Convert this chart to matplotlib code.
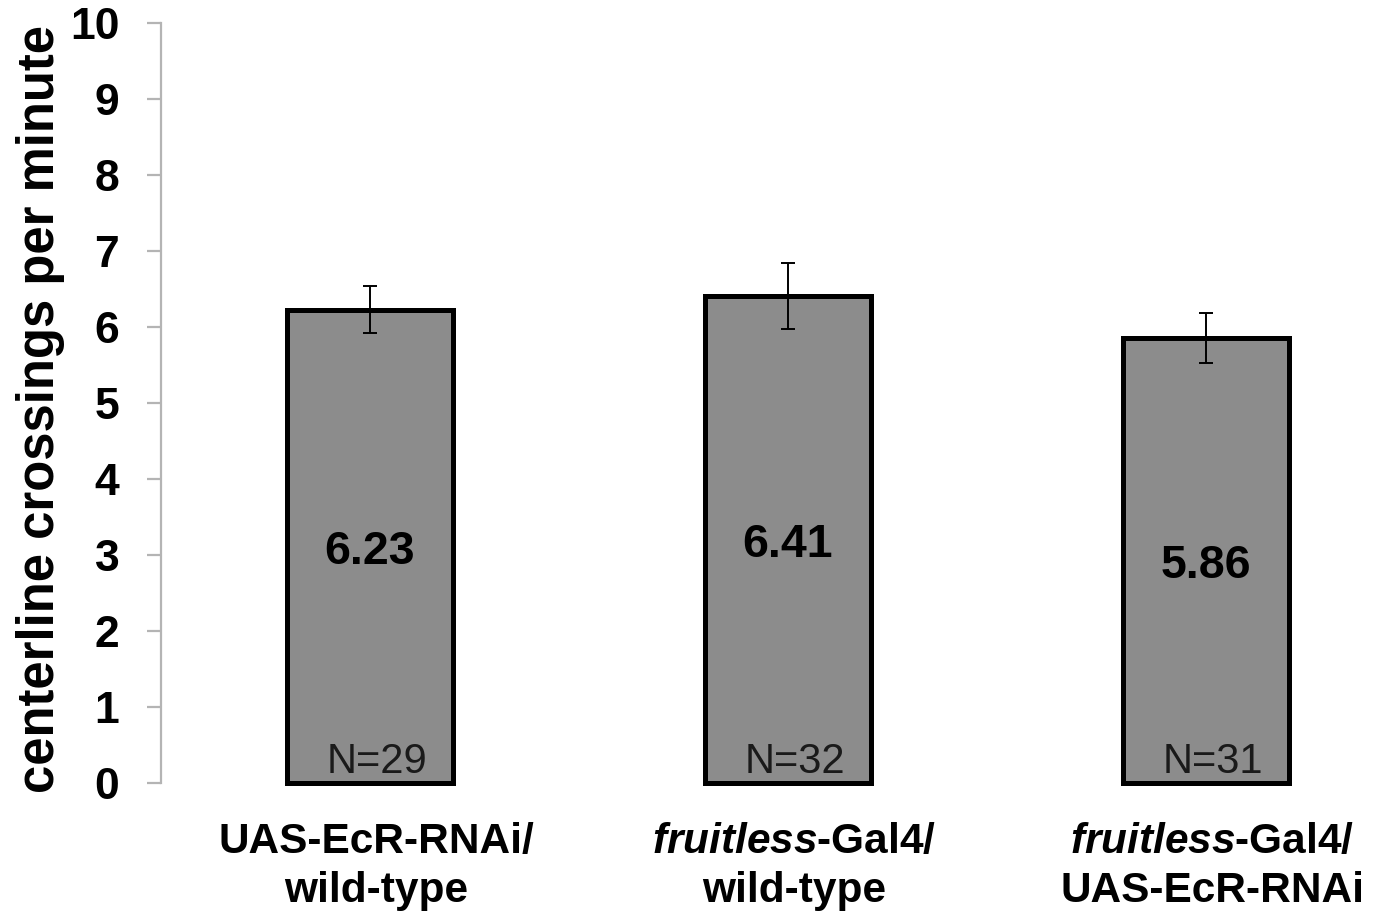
import matplotlib
matplotlib.use("Agg")
import matplotlib.pyplot as plt

plt.rcParams['font.family'] = ['Liberation Sans', 'DejaVu Sans']
plt.rcParams['mathtext.fontset'] = 'custom'
plt.rcParams['mathtext.it'] = 'Liberation Sans:italic:bold'
plt.rcParams['mathtext.rm'] = 'Liberation Sans:bold'

categories = [
    "UAS-EcR-RNAi/\nwild-type",
    r"$\mathit{fruitless}$-Gal4/" + "\nwild-type",
    r"$\mathit{fruitless}$-Gal4/" + "\nUAS-EcR-RNAi",
]
values = [6.23, 6.41, 5.86]
errors = [0.31, 0.43, 0.33]
n_labels = ["N=29", "N=32", "N=31"]
value_labels = ["6.23", "6.41", "5.86"]
yticks = list(range(0, 11))

W, H = 1376, 914
fig = plt.figure(figsize=(W / 100, H / 100), dpi=100)
ax = fig.add_axes([161 / W, (H - 783) / H, 1254 / W, 760 / H])

x = list(range(len(values)))
ax.bar(x, values, width=0.396, color="#8c8c8c", edgecolor="black",
       linewidth=3.6, clip_on=False, zorder=2)
ax.errorbar(x, values, yerr=errors, fmt="none", ecolor="black",
            elinewidth=1.4, capsize=5, capthick=1.4, zorder=3)

for xi, v, lab, nl in zip(x, values, value_labels, n_labels):
    ax.text(xi, v / 2 - 0.07, lab, ha="center", va="center",
            fontsize=33.5, fontweight="bold", color="black", zorder=4)
    ax.text(xi + 0.016, 0.13, nl, ha="center", va="baseline",
            fontsize=30, color="#1a1a1a", zorder=4)

ax.set_xlim(-0.5, 2.5)
ax.set_ylim(0, 10)
ax.set_yticks(yticks)
ax.set_yticklabels([str(t) for t in yticks], fontsize=32, fontweight="bold")
label_shift = 0.015
ax.set_xticks([xi + label_shift for xi in x])
ax.set_xticklabels(categories, fontsize=30.5, fontweight="bold", linespacing=1.28)

for s in ["top", "right", "bottom"]:
    ax.spines[s].set_visible(False)
ax.spines["left"].set_color("#b4b4b4")
ax.spines["left"].set_linewidth(1.6)
ax.tick_params(axis="y", direction="out", length=10, width=1.6,
               color="#b4b4b4", pad=20)
ax.tick_params(axis="x", length=0, pad=28)

ax.set_ylabel("centerline crossings per minute", fontsize=36.5,
              fontweight="bold", va="center")
ax.yaxis.set_label_coords(-0.0964, 0.492)

fig.savefig("out.png", dpi=100)
